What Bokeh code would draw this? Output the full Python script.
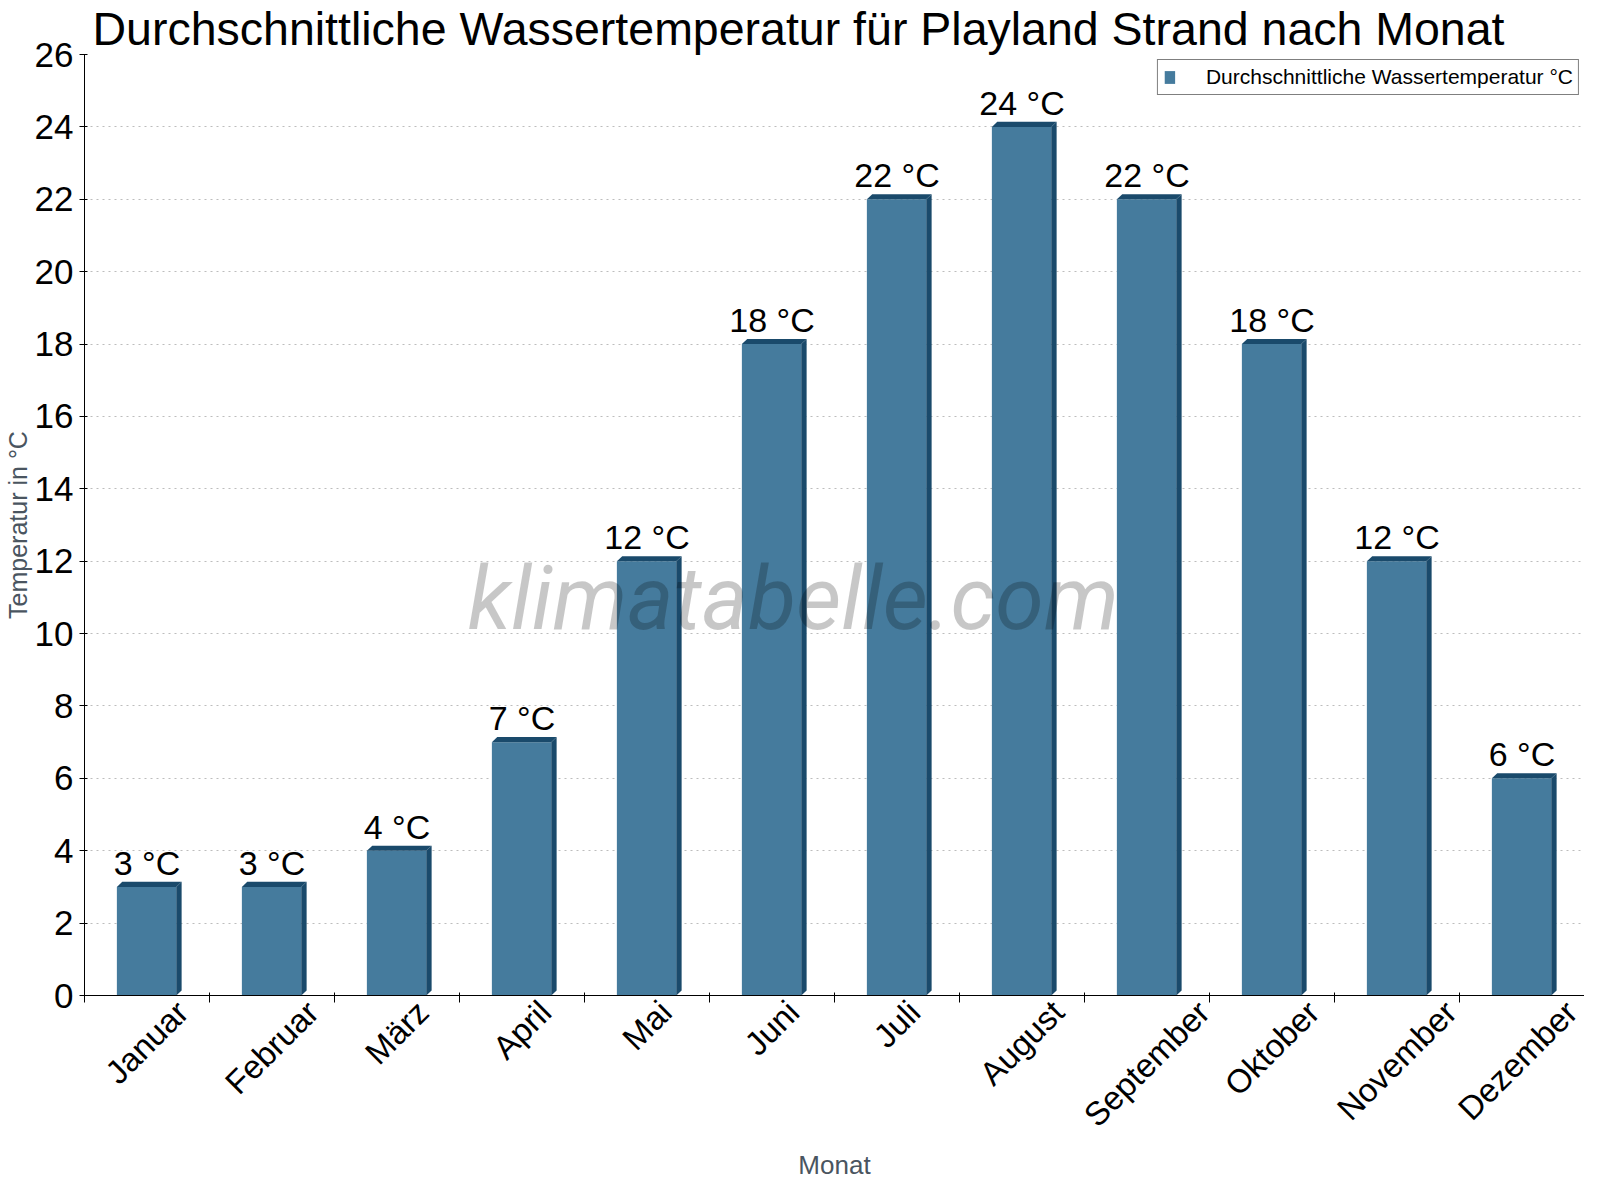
import math
from bokeh.plotting import figure
from bokeh.models import (ColumnDataSource, FixedTicker, Range1d, Label, Legend,
                          LegendItem, Span)
from bokeh.core.properties import value
from bokeh.embed import file_html
from bokeh.resources import INLINE

months = ["Januar", "Februar", "März", "April", "Mai", "Juni", "Juli",
          "August", "September", "Oktober", "November", "Dezember"]
water_temp = [3, 3, 4, 7, 12, 18, 22, 24, 22, 18, 12, 6]
y_ticks = list(range(0, 27, 2))

title = "Durchschnittliche Wassertemperatur für Playland Strand nach Monat"
series_name = "Durchschnittliche Wassertemperatur °C"
unit = "°C"
watermark = "klimatabelle.com"
x_title = "Monat"
y_title = "Temperatur in °C"

FRONT = "#457b9d"
DARK = "#1a4a6b"
FONT = "Liberation Sans"

# approximate Arial/Liberation glyph advance widths (em/1000) for label centring
ADV = {"J": 500, "a": 556, "n": 556, "u": 556, "r": 333, "F": 611, "e": 556, "b": 556,
       "M": 833, "ä": 556, "z": 500, "A": 667, "p": 556, "i": 222, "l": 222, "g": 556,
       "s": 500, "t": 278, "S": 667, "m": 833, "O": 778, "k": 500, "o": 556, "v": 500,
       "D": 722, "N": 722}
XLAB_PX = 33
FRAME_W = 1508.0

n = len(months)
centers = [i + 0.5 for i in range(n)]
half_l, half_r = 0.241, 0.234
dx, dy = 0.043, 0.14

lefts = [c - half_l for c in centers]
rights = [c + half_r for c in centers]

src = ColumnDataSource(dict(x=centers, left=lefts, right=rights, top=water_temp,
                            bottom=[0] * n,
                            lab=[f"{v} {unit}" for v in water_temp],
                            ly=[v + dy for v in water_temp]))

top_xs, top_ys, side_xs, side_ys = [], [], [], []
for l, r, v in zip(lefts, rights, water_temp):
    top_xs.append([l, l + dx, r + dx, r])
    top_ys.append([v, v + dy, v + dy, v])
    side_xs.append([r, r, r + dx, r + dx])
    side_ys.append([0, v, v + dy, dy])

p = figure(width=1584, height=1184, output_backend="svg", toolbar_location=None,
           x_range=Range1d(0, n), y_range=Range1d(0, 26),
           min_border_left=76, min_border_right=0, min_border_top=44,
           min_border_bottom=189)
p.outline_line_color = None
p.background_fill_color = "white"
p.border_fill_color = "white"

p.title.text = title
p.title.text_font = FONT
p.title.text_font_size = "46.5px"
p.title.text_font_style = "normal"
p.title.text_color = "black"
p.title.offset = 8
p.title.standoff = 0

front = p.quad(left="left", right="right", top="top", bottom="bottom", source=src,
               fill_color=FRONT, line_color=None)
p.patches(top_xs, top_ys, fill_color=DARK, line_color=None)
p.patches(side_xs, side_ys, fill_color=DARK, line_color=None)

p.text(x="x", y="ly", text="lab", source=src, text_align="center",
       text_baseline="bottom", text_font=value(FONT), text_font_size="34px",
       text_color="black")

# x axis: invisible major ticks carry the rotated labels (centred on each month),
# minor ticks mark the month boundaries
label_pos = []
for c, m in zip(centers, months):
    w = sum(ADV.get(ch, 556) for ch in m) / 1000.0 * XLAB_PX
    label_pos.append(round(c + (w / 2) * math.cos(math.pi / 4) / (FRAME_W / n), 4))

p.xaxis.ticker = FixedTicker(ticks=label_pos, minor_ticks=list(range(0, n + 1)))
p.xaxis.major_label_overrides = {pos: m for pos, m in zip(label_pos, months)}
p.xaxis.major_tick_out = 0
p.xaxis.major_tick_in = 0
p.xaxis.minor_tick_out = 7
p.xaxis.minor_tick_in = 3
p.xaxis.major_label_orientation = math.pi / 4
p.xaxis.major_label_text_font = FONT
p.xaxis.major_label_text_font_size = f"{XLAB_PX}px"
p.xaxis.major_label_text_color = "black"
p.xaxis.major_label_standoff = 4
p.xaxis.axis_label = x_title
p.xaxis.axis_label_text_font = FONT
p.xaxis.axis_label_text_font_size = "26px"
p.xaxis.axis_label_text_font_style = "normal"
p.xaxis.axis_label_text_color = "#4a5560"
p.xaxis.axis_label_standoff = 0
p.xaxis.axis_line_color = "black"

p.yaxis.ticker = FixedTicker(ticks=y_ticks)
p.yaxis.major_tick_out = 5
p.yaxis.major_tick_in = 3
p.yaxis.minor_tick_out = 0
p.yaxis.minor_tick_in = 0
p.yaxis.major_label_text_font = FONT
p.yaxis.major_label_text_font_size = "35px"
p.yaxis.major_label_text_color = "black"
p.yaxis.major_label_standoff = 6
p.yaxis.axis_label = y_title
p.yaxis.axis_label_text_font = FONT
p.yaxis.axis_label_text_font_size = "25px"
p.yaxis.axis_label_text_font_style = "normal"
p.yaxis.axis_label_text_color = "#4a5560"
p.yaxis.axis_label_standoff = 0
p.yaxis.axis_line_color = "black"

p.xgrid.grid_line_color = None
p.ygrid.grid_line_color = "#bdbdbd"
p.ygrid.grid_line_dash = "2 4"
p.ygrid.grid_line_width = 1

# right frame border
p.add_layout(Span(location=n, dimension="height", line_color="black", line_width=1))

# watermark
wm = Label(x=5.67, y=9.55, text=watermark, text_align="center",
           text_baseline="bottom", text_font="Roboto", text_font_style="italic",
           text_font_size="88px", text_color="black", text_alpha=0.22)
p.add_layout(wm)

legend = Legend(items=[LegendItem(label=series_name, renderers=[front])],
                location="top_right", border_line_color="black", border_line_width=1,
                label_text_font=FONT, label_text_font_size="21px",
                label_text_color="black",
                glyph_width=13, glyph_height=16, label_standoff=30, padding=5,
                spacing=0, margin=5, background_fill_color="white",
                background_fill_alpha=1.0)
p.add_layout(legend)

open("out.html", "w").write(file_html(p, INLINE))
